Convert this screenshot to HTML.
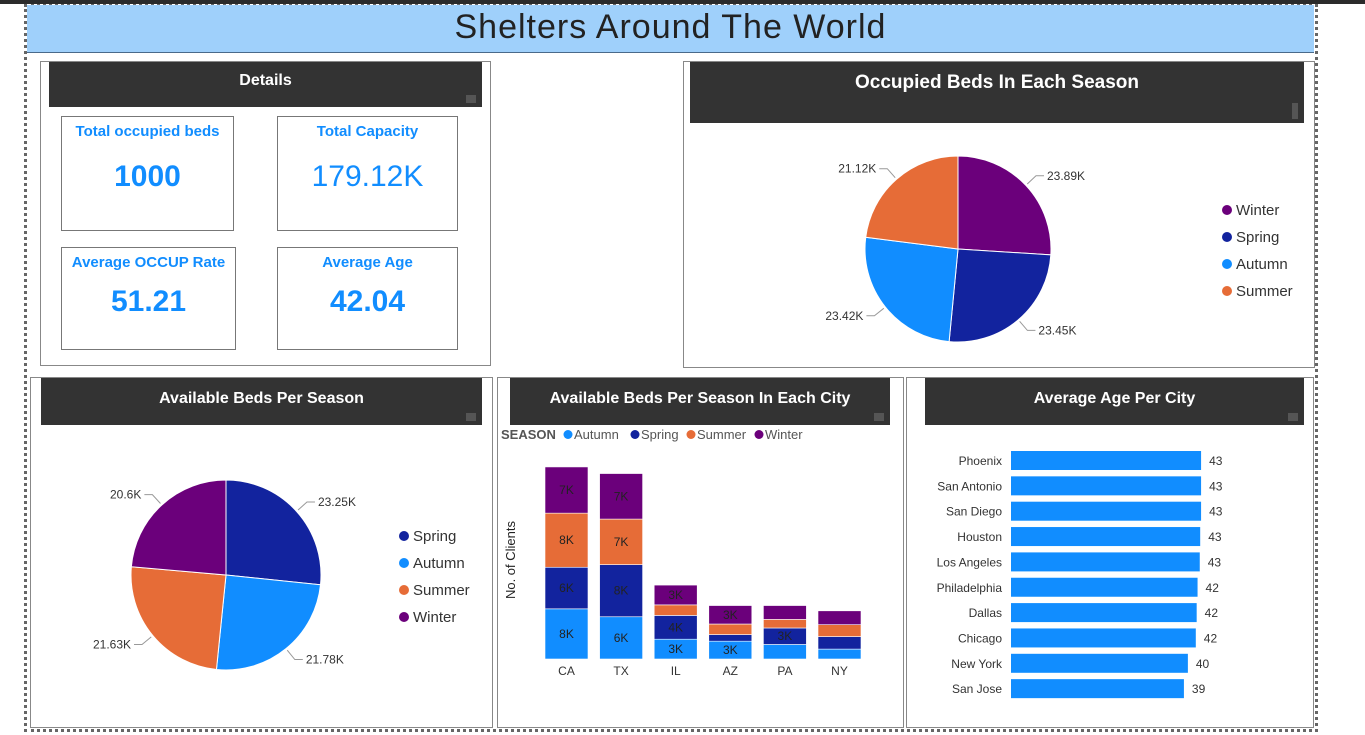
<!DOCTYPE html>
<html><head><meta charset="utf-8"><style>
body{margin:0;width:1365px;height:735px;background:#fff;position:relative;overflow:hidden;font-family:"Liberation Sans",sans-serif}
.abs{position:absolute;box-sizing:border-box}
.panel{border:1px solid #888;background:#fff}
.hdr{background:#333;color:#fff;font-weight:bold;font-size:16px;text-align:center}
.kpi{border:1px solid #777;text-align:center;color:#118dff;font-weight:bold}
.kpi .t{font-size:15px;margin-top:6px}
.kpi .v{font-size:30px}
.grip{position:absolute;right:6px;bottom:4px;width:10px;height:8px;background:#555}
</style></head><body>
<div class="abs" style="left:0;top:0;width:1365px;height:4px;background:#2b2b2b"></div>
<div class="abs" style="left:24px;top:4px;width:1294px;height:728px;border:3px dotted #666"></div>
<div class="abs" style="left:27px;top:5px;width:1287px;height:48px;background:#9fd0fb;border-bottom:1px solid #4a6a8a;text-align:center;font-size:34px;line-height:44px;color:#222;letter-spacing:1px">Shelters Around The World</div>

<div class="abs panel" style="left:40px;top:61px;width:451px;height:305px"></div>
<div class="abs hdr" style="left:49px;top:62px;width:433px;height:45px;line-height:38px">Details<div class="grip"></div></div>
<div class="abs kpi" style="left:61px;top:116px;width:173px;height:115px"><div class="t">Total occupied beds</div><div class="v" style="margin-top:20px">1000</div></div>
<div class="abs kpi" style="left:277px;top:116px;width:181px;height:115px"><div class="t">Total Capacity</div><div class="v" style="margin-top:20px;font-weight:normal">179.12K</div></div>
<div class="abs kpi" style="left:61px;top:247px;width:175px;height:103px"><div class="t">Average OCCUP Rate</div><div class="v" style="margin-top:14px">51.21</div></div>
<div class="abs kpi" style="left:277px;top:247px;width:181px;height:103px"><div class="t">Average Age</div><div class="v" style="margin-top:14px">42.04</div></div>

<div class="abs panel" style="left:683px;top:61px;width:632px;height:307px"></div>
<div class="abs hdr" style="left:690px;top:62px;width:614px;height:61px;line-height:42px;font-size:19px">Occupied Beds In Each Season<div class="grip" style="width:6px;height:16px"></div></div>

<div class="abs panel" style="left:30px;top:377px;width:463px;height:351px"></div>
<div class="abs hdr" style="left:41px;top:378px;width:441px;height:47px;line-height:42px">Available Beds Per Season<div class="grip"></div></div>

<div class="abs panel" style="left:497px;top:377px;width:407px;height:351px"></div>
<div class="abs hdr" style="left:510px;top:378px;width:380px;height:47px;line-height:42px">Available Beds Per Season In Each City<div class="grip"></div></div>

<div class="abs panel" style="left:906px;top:377px;width:408px;height:351px"></div>
<div class="abs hdr" style="left:925px;top:378px;width:379px;height:47px;line-height:42px">Average Age Per City<div class="grip"></div></div>

<svg class="abs" style="left:0;top:0" width="1365" height="735" id="charts" font-family="Liberation Sans, sans-serif"></svg>

<script>
const NS="http://www.w3.org/2000/svg";
const svg=document.getElementById('charts');
function mk(tag,attrs,txt){const e=document.createElementNS(NS,tag);for(const k in attrs)e.setAttribute(k,attrs[k]);if(txt!==undefined)e.textContent=txt;svg.appendChild(e);return e;}
const COL={Winter:'#6b007b',Spring:'#12239e',Autumn:'#118dff',Summer:'#e66c37'};

// Pie 1 data
const occSeasons=['Winter','Spring','Autumn','Summer'];
const occValues=[23.89,23.45,23.42,21.12];
// Pie 2 data
const availSeasons=['Spring','Autumn','Summer','Winter'];
const availValues=[23.25,21.78,21.63,20.6];
// Stacked data
const cities=['CA','TX','IL','AZ','PA','NY'];
const stackSeasons=['Autumn','Spring','Summer','Winter'];
const autumnVals=[7.6,6.4,3.0,2.7,2.2,1.5];
const springVals=[6.3,7.9,3.6,1.0,2.5,1.9];
const summerVals=[8.2,6.9,1.6,1.6,1.3,1.8];
const winterVals=[7.0,6.9,3.0,2.8,2.1,2.1];
// Age data
const ageCities=['Phoenix','San Antonio','San Diego','Houston','Los Angeles','Philadelphia','Dallas','Chicago','New York','San Jose'];
const ageValues=[43.2,43.2,43.2,43.0,42.9,42.4,42.2,42.0,40.2,39.3];

function pie(cx,cy,r,names,vals,prefix,legendX,legendY){
  const tot=vals.reduce((a,b)=>a+b,0);let a0=-Math.PI/2;
  names.forEach((n,i)=>{
    const a1=a0+vals[i]/tot*2*Math.PI;
    const x0=cx+r*Math.cos(a0),y0=cy+r*Math.sin(a0),x1=cx+r*Math.cos(a1),y1=cy+r*Math.sin(a1);
    const p=mk('path',{d:`M${cx},${cy}L${x0},${y0}A${r},${r} 0 ${a1-a0>Math.PI?1:0} 1 ${x1},${y1}Z`,fill:COL[n],stroke:'#fff','stroke-width':1});
    
    
    const am=(a0+a1)/2, ex=cx+(r+2)*Math.cos(am), ey=cy+(r+2)*Math.sin(am);
    const right=Math.cos(am)>=0, lx=cx+(r+14)*Math.cos(am), ly=cy+(r+14)*Math.sin(am);
    const l=mk('polyline',{points:`${ex},${ey} ${lx},${ly} ${lx+(right?8:-8)},${ly}`,fill:'none',stroke:'#999'});
    
    
    const t=mk('text',{x:lx+(right?11:-11),y:ly+4,'font-size':12,fill:'#333','text-anchor':right?'start':'end'},vals[i].toFixed(2).replace(/\.?0+$/,'')+'K');
    
    
    a0=a1;
  });
  names.forEach((n,i)=>{
    const c=mk('circle',{cx:legendX,cy:legendY+i*27,r:5,fill:COL[n]});
    
    
    const t=mk('text',{x:legendX+9,y:legendY+i*27+5,'font-size':15,fill:'#333'},n);
    
    
  });
}
pie(958,249,93,occSeasons,occValues,'occupied-pie',1227,210);
pie(226,575,95,availSeasons,availValues,'available-pie',404,536);

// stacked bars
(function(){
  const base=659, k=6.6, x0=545, step=54.6, bw=43;
  const y=v=>base-v*k;
  const series=[autumnVals,springVals,summerVals,winterVals];
  cities.forEach((c,i)=>{
    let cum=0;const bx=x0+i*step;
    series.forEach((vals,s)=>{
      const v=vals[i];
      const r=mk('rect',{x:bx,y:y(cum+v),width:bw,height:v*k,fill:COL[stackSeasons[s]],stroke:'#fff','stroke-width':0.6});
      
      
      if(v>=2.45){const t=mk('text',{x:bx+bw/2,y:y(cum+v/2)+4,'font-size':12,fill:'#222','text-anchor':'middle'},Math.round(v)+'K');
        
        }
      cum+=v;
    });
    const t=mk('text',{x:bx+bw/2,y:675,'font-size':12,fill:'#333','text-anchor':'middle'},c);
    
    
  });
  const yt=mk('text',{x:515,y:560,'font-size':13,fill:'#222','text-anchor':'middle',transform:'rotate(-90 515 560)'},'No. of Clients');
  
  
  const lt=mk('text',{x:501,y:439,'font-size':13,'font-weight':'bold',fill:'#555'},'SEASON');
  
  
  const lx=[568,635,691,759];
  stackSeasons.forEach((s,i)=>{
    const c=mk('circle',{cx:lx[i],cy:434.5,r:4.5,fill:COL[s]});
    
    
    const t=mk('text',{x:lx[i]+6,y:439,'font-size':13,fill:'#555'},s);
    
    
  });
})();

// age bars
(function(){
  const x0=1011, k=4.4, y0=451, step=25.35, bh=19;
  ageCities.forEach((c,i)=>{
    const by=y0+i*step;
    const r=mk('rect',{x:x0,y:by,width:ageValues[i]*k,height:bh,fill:'#118dff'});
    
    
    const l=mk('text',{x:1002,y:by+14,'font-size':12,fill:'#333','text-anchor':'end'},c);
    
    
    const v=mk('text',{x:x0+ageValues[i]*k+8,y:by+14,'font-size':12,fill:'#333'},Math.round(ageValues[i]));
    
    
  });
})();
</script>
</body></html>
